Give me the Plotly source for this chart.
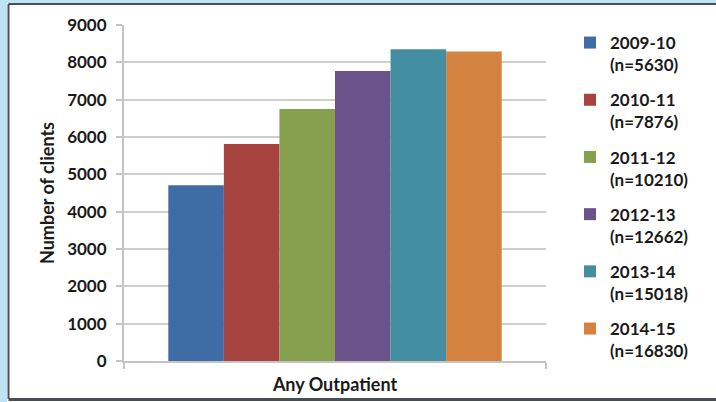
import plotly.graph_objects as go

category = ["Any Outpatient"]
years = ["2009-10", "2010-11", "2011-12", "2012-13", "2013-14", "2014-15"]
n_values = [5630, 7876, 10210, 12662, 15018, 16830]
clients = [4710, 5810, 6750, 7765, 8350, 8290]
colors = ["#3F6CA5", "#A6433F", "#87A04F", "#6B528A", "#448EA2", "#D4823F"]

FONT = "Lato, 'Open Sans', sans-serif"
TXT = "#1a1a1a"
fig = go.Figure()
for yr, n, v, c in zip(years, n_values, clients, colors):
    fig.add_trace(go.Bar(
        x=category, y=[v], name=f"{yr}<br>(n={n})", marker=dict(color=c, line=dict(width=0)),
        legendgroup=yr,
    ))

W, L, T, B = 422, 124, 25, 361
def px(x):
    return (x - L) / W
def py(y):
    return (B - y) / (B - T)

fig.update_layout(
    width=716, height=402,
    margin=dict(l=124, r=170, t=25, b=41),
    paper_bgcolor="white", plot_bgcolor="white",
    barmode="group", bargap=0.21, bargroupgap=0,
    font=dict(family=FONT, size=16, color=TXT),
    legend=dict(xref="container", yref="container", x=570/716, y=1 - 25/402,
                xanchor="left", yanchor="top", valign="top", maxheight=400,
                font=dict(family=FONT, size=17, color=TXT, weight="bold"),
                tracegroupgap=10, itemwidth=30, bgcolor="rgba(0,0,0,0)"),
    yaxis=dict(range=[0, 9000], dtick=1000, showgrid=True, gridcolor="#CFCFCF", gridwidth=2,
               showline=True, linecolor="#C4C4C4", linewidth=2, ticks="outside", ticklen=6,
               tickcolor="#C4C4C4", tickwidth=2, zeroline=False, automargin=False,
               ticklabelstandoff=6,
               tickfont=dict(family=FONT, size=17, color=TXT, weight="bold"),
               title=dict(text="Number of clients", standoff=8,
                          font=dict(family=FONT, size=18, color=TXT, weight="bold"))),
    xaxis=dict(showline=True, linecolor="#C4C4C4", linewidth=2, ticks="outside", ticklen=6,
               tickcolor="#C4C4C4", tickwidth=2, tickson="boundaries", ticklabelstandoff=6,
               automargin=False,
               tickfont=dict(family=FONT, size=18, color=TXT, weight="bold")),
    shapes=[
        dict(type="rect", xref="paper", yref="paper", x0=px(0), x1=px(7), y0=py(402), y1=py(0),
             fillcolor="#BDE3F5", line=dict(width=0), layer="above"),
        dict(type="rect", xref="paper", yref="paper", x0=px(0), x1=px(716), y0=py(3), y1=py(0),
             fillcolor="#BDE3F5", line=dict(width=0), layer="above"),
        dict(type="line", xref="paper", yref="paper", x0=px(8.5), x1=px(8.5), y0=py(399), y1=py(4),
             line=dict(color="#4A4F55", width=2), layer="above"),
        dict(type="line", xref="paper", yref="paper", x0=px(8.5), x1=px(716), y0=py(4), y1=py(4),
             line=dict(color="#4A4F55", width=2), layer="above"),
        dict(type="line", xref="paper", yref="paper", x0=px(8.5), x1=px(716), y0=py(399.5), y1=py(399.5),
             line=dict(color="#4A4F55", width=3), layer="above"),
    ],
)
fig.write_html("out.html", config={"displayModeBar": False},
               post_script="document.body.style.margin='0';document.body.style.padding='0';")
